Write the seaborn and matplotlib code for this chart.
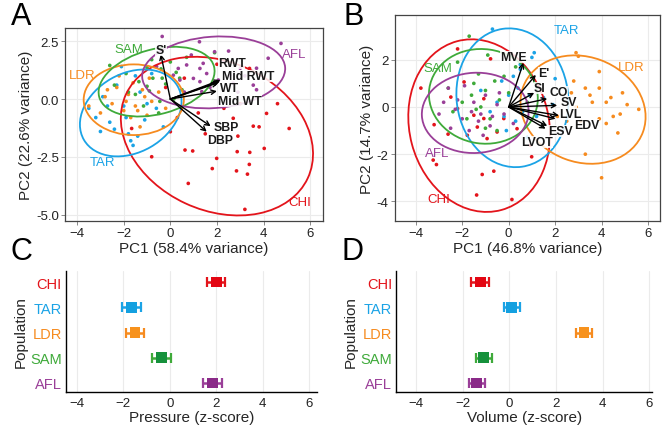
import numpy as np
import pandas as pd
import matplotlib
matplotlib.use("Agg")
import matplotlib.pyplot as plt
from matplotlib.patches import Ellipse
import seaborn as sns

# populations and colours
pops = ["CHI", "TAR", "LDR", "SAM", "AFL"]
pop_colors = {"CHI": "#E3141B", "TAR": "#1BA3E6", "LDR": "#F68B1F",
              "SAM": "#3FAA3A", "AFL": "#9A3F98"}
mark_colors = {"CHI": "#E30613", "TAR": "#14A0E0", "LDR": "#F7921D",
               "SAM": "#16913C", "AFL": "#8A2A88"}

# ---- Panel A: pressure PCA scores ----
a_chi_x = [3.4, 2.0, 0.6, -0.2, -1.66, 0.0, 2.7, 3.56, 3.81, 5.1, 4.13, 2.9, 0.63, 0.96, 1.99,
           2.87, 3.41, 4.03, 3.39, 2.84, 3.31, 0.77, 3.2, -0.8, 1.5, 2.3, 3.0, 1.8, 0.3, 1.2, 4.6]
a_chi_y = [1.32, 1.5, 0.9, 0.5, -1.27, -1.41, -0.83, -1.17, -1.2, -1.27, -0.62, -1.6, -2.2, -2.24, -2.56,
           -2.27, -2.3, -2.13, -2.82, -3.1, -3.24, -3.64, -4.76, -2.49, -1.5, -0.4, -0.2, -3.0, -0.8, -0.6, -0.2]
a_tar_x = [-3.5, -3.2, -2.9, -2.6, -2.3, -2.0, -1.7, -1.6, -1.4, -1.8, -1.1, -0.6, -2.4, -1.3, -0.8,
           -2.1, -3.0, -1.0, -0.3, -1.9, -2.7, -1.5]
a_tar_y = [-0.4, -0.8, 0.1, -1.0, 0.6, -0.3, -1.8, -2.0, -1.6, -1.5, -0.9, -0.4, -1.3, 0.3, 1.1,
           1.4, -1.4, -0.2, -1.2, -0.8, -0.3, 1.0]
a_ldr_x = [-3.5, -2.8, -2.3, -1.8, -1.2, -0.8, -1.5, -2.0, -1.0, -1.7, -2.5, -0.5, -1.3, -2.2, -0.9,
           -3.0, -1.9, -1.1, -0.2, -2.7, -1.6, -1.4]
a_ldr_y = [-0.3, 0.1, 0.5, 0.2, 0.4, -0.1, -0.3, -0.5, -0.7, -0.8, -0.2, 0.3, -1.2, 1.0, 0.9,
           -0.6, -0.1, 0.1, -0.4, 0.4, 0.7, -0.5]
a_sam_x = [-2.6, -1.9, -1.0, -0.4, 0.25, -0.75, -1.35, -0.2, 0.5, -0.9, -1.5, 0.15, -0.45, -1.15,
           -2.4, 0.7, -0.35, -1.0, 0.0, 1.9, -0.5, -0.8, 0.4, -1.8]
a_sam_y = [1.45, 1.1, 1.35, 1.3, 1.15, 0.9, 0.75, 0.65, 0.4, 0.35, 0.2, 0.0, -0.1, -0.3,
           0.6, 1.8, 0.9, 0.55, 1.6, 2.0, -0.6, 1.7, 0.9, 0.3]
a_afl_x = [-0.35, 1.25, 2.5, 4.75, 4.2, 3.7, 1.9, 0.7, 1.27, 1.56, 0.34, 0.99, 1.41, 3.0, 3.56,
           3.7, 2.7, 2.06, 0.41, -0.59, 0.13, 1.35, 2.56, 1.27, 2.3, 3.2, 1.7, 0.9, 2.9, 0.6]
a_afl_y = [2.7, 2.47, 2.07, 2.4, 1.76, 1.33, 2.04, 1.47, 1.32, 1.1, 1.32, 0.89, 1.54, 1.33, 0.6,
           0.4, 0.68, 0.82, 0.82, 1.4, 1.03, 0.32, 1.03, 0.75, 1.6, 1.0, 0.5, 1.9, 0.3, 0.3]

# ellipses: centre x, centre y, width, height, angle (CHI, TAR, LDR, SAM, AFL)
a_ell_cx = [2.0, -1.7, -1.57, -0.59, 1.86]
a_ell_cy = [-1.6, -0.6, -0.03, 0.75, 1.15]
a_ell_w = [8.6, 4.64, 4.3, 5.1, 6.15]
a_ell_h = [6.4, 3.4, 3.05, 2.8, 3.08]
a_ell_ang = [-25, 30, 0, 15, 4]
a_lab_x = [5.56, -2.9, -3.8, -1.76, 5.3]
a_lab_y = [-4.46, -2.7, 1.04, 2.16, 1.94]

# loadings
a_load_names = ["S'", "RWT", "Mid RWT", "WT", "Mid WT", "SBP", "DBP"]
a_load_x = [-0.41, 2.15, 2.12, 2.05, 2.0, 1.73, 1.56]
a_load_y = [1.93, 0.82, 0.76, 0.7, 0.34, -1.17, -1.41]
a_txt_x = [-0.4, 2.63, 3.34, 2.56, 2.99, 2.41, 2.13]
a_txt_y = [2.12, 1.55, 1.0, 0.46, -0.08, -1.19, -1.77]

# ---- Panel B: volume PCA scores ----
b_chi_x = [-3.78, -2.2, -3.21, -3.25, -3.11, -1.14, -0.64, -1.38, 0.14, 0.99, 0.93, -2.61, -1.5,
           -1.07, -1.92, -2.49, -0.78, -0.5, -1.35, -2.2, -0.93, -0.21, -1.78, 0.36, -1.07]
b_chi_y = [0.8, 2.46, -0.75, -2.25, -2.44, -2.86, -2.72, -3.73, -3.92, -2.11, -1.62, -1.15, -0.35,
           0.35, 1.06, 0.42, 2.04, -1.06, -0.85, -0.07, -1.34, -0.49, -1.2, -0.92, -0.49]
b_tar_x = [-0.7, 0.5, 1.0, 1.1, -0.3, 0.0, -0.5, 0.4, 0.6, -0.2, 0.9, -1.2, 0.3, -0.8, 1.5,
           1.2, 0.2, -0.1, 0.8, 1.9, 0.5, 2.0]
b_tar_y = [3.3, 1.8, 2.1, 2.3, 1.1, 0.5, 0.2, 0.8, -0.2, -0.4, 0.5, 0.7, -0.6, -0.2, 0.4,
           -0.4, 1.3, -1.0, -1.3, 0.1, 1.6, 1.2]
b_ldr_x = [2.9, 3.0, 3.9, 2.3, 2.7, 3.3, 3.9, 4.4, 4.9, 5.6, 4.8, 4.2, 3.6, 2.9, 3.1, 2.5, 3.9,
           4.5, 4.7, 3.3, 4.0, 2.1, 3.5, 5.1, 2.8, 4.2]
b_ldr_y = [2.3, 2.15, 1.5, 0.5, 0.6, 0.8, 0.8, 0.4, 0.6, -0.1, -0.3, 0.2, 0.2, 0.0, -0.6, -0.6, -0.5,
           -0.4, -1.1, -2.0, -3.0, -0.4, 0.5, 0.1, 1.1, -0.7]
b_sam_x = [-1.7, -2.2, -1.3, -0.6, -0.2, -2.0, -1.6, -1.0, -0.4, -1.4, -0.8, -1.8, -2.6, 0.3,
           0.8, -0.5, -1.2, -2.4, -1.5, 0.0, -0.9, -1.0]
b_sam_y = [3.0, 1.9, 1.4, 1.1, 1.3, 0.2, 0.5, 0.7, 0.3, -0.1, -0.5, -0.5, 0.8, 1.7,
           0.2, -1.0, 0.0, -0.2, 1.0, 0.6, 2.2, -0.9]
b_afl_x = [-2.6, -3.0, -2.5, -2.0, -1.5, -1.2, -0.8, -1.7, -2.2, -0.5, -1.0, -1.9, -1.3, -0.7,
           -2.8, -1.6, -0.2, -1.1, -2.3, -0.4, 0.2]
b_afl_y = [0.8, -0.3, -0.9, -0.5, 0.2, -0.3, -0.8, -1.0, 0.3, 0.1, 0.5, 0.9, -0.6, -0.4,
           0.2, -0.2, -0.3, -1.2, -0.1, 0.6, -0.7]

b_ell_cx = [-1.27, 0.16, 3.2, -1.09, -1.44]
b_ell_cy = [-0.79, 0.39, -0.11, 0.45, -0.25]
b_ell_w = [6.0, 4.8, 5.5, 4.7, 4.6]
b_ell_h = [7.4, 5.9, 4.46, 4.0, 3.4]
b_ell_ang = [15, 8, -20, -8, 3]
b_lab_x = [-3.0, 2.49, 5.27, -3.03, -3.1]
b_lab_y = [-3.92, 3.28, 1.69, 1.66, -1.93]

b_load_names = ["MVE", "E'", "SI", "CO", "SV", "LVL", "EDV", "ESV", "LVOT"]
b_load_x = [0.63, 1.17, 1.1, 1.66, 2.09, 2.16, 2.02, 1.59, 1.66]
b_load_y = [1.87, 1.36, 0.6, 0.35, 0.07, -0.36, -0.5, -0.92, -0.8]
b_txt_x = [0.21, 1.5, 1.33, 2.14, 2.57, 2.64, 3.36, 2.21, 1.24]
b_txt_y = [2.11, 1.45, 0.8, 0.63, 0.21, -0.28, -0.75, -1.01, -1.48]

# ---- Panels C & D: population means (z-score) ----
cat_order = ["AFL", "SAM", "LDR", "TAR", "CHI"]  # bottom to top
c_mean = [1.85, -0.35, -1.5, -1.65, 2.0]
c_err = [0.4, 0.4, 0.4, 0.4, 0.4]
d_mean = [-1.4, -1.1, 3.2, 0.1, -1.25]
d_err = [0.35, 0.35, 0.35, 0.35, 0.38]

sns.set_theme(style="white")
plt.rcParams["font.family"] = ["Liberation Sans", "DejaVu Sans"]

fig = plt.figure(figsize=(6.67, 4.31), dpi=100)
axA = fig.add_axes([0.0975, 0.485, 0.387, 0.448])
axB = fig.add_axes([0.592, 0.485, 0.397, 0.478])
axC = fig.add_axes([0.099, 0.088, 0.376, 0.281])
axD = fig.add_axes([0.594, 0.088, 0.384, 0.281])


def pca_panel(ax, groups, ell, labels, loads, xlim, ylim, yticks, yfmt, xlabel, ylabel):
    frames = []
    for p in pops:
        gx, gy = groups[p]
        frames.append(pd.DataFrame({"x": gx, "y": gy, "pop": p}))
    df = pd.concat(frames, ignore_index=True)
    sns.scatterplot(data=df, x="x", y="y", hue="pop", palette=pop_colors, s=7,
                    linewidth=0, legend=False, ax=ax, zorder=2)
    cx, cy, w, h, ang = ell
    for i, p in enumerate(pops):
        ax.add_patch(Ellipse((cx[i], cy[i]), w[i], h[i], angle=ang[i], fill=False,
                             edgecolor=pop_colors[p], lw=1.3, zorder=3))
        ax.text(labels[0][i], labels[1][i], p, color=pop_colors[p], fontsize=9.5,
                ha="center", va="center", zorder=5)
    names, lx, ly, tx, ty = loads
    for n, x, y, x2, y2 in zip(names, lx, ly, tx, ty):
        ax.annotate("", xy=(x, y), xytext=(0, 0),
                    arrowprops=dict(arrowstyle="->", color="black", lw=1.0,
                                    mutation_scale=8, shrinkA=0, shrinkB=0), zorder=4)
        ax.text(x2, y2, n, fontsize=8.8, fontweight="bold", color="#1a1a1a",
                ha="center", va="center", zorder=6,
                bbox=dict(facecolor="white", edgecolor="none", pad=0.0, alpha=0.85))
    ax.set_xlim(*xlim)
    ax.set_ylim(*ylim)
    ax.set_xticks([-4, -2, 0, 2, 4, 6])
    ax.set_yticks(yticks)
    ax.set_yticklabels([yfmt.format(v) for v in yticks])
    ax.grid(True, color="#EBEBEB", lw=0.8, zorder=0)
    ax.set_axisbelow(True)
    for s in ax.spines.values():
        s.set_color("#444444")
        s.set_linewidth(0.9)
    ax.tick_params(axis="both", labelsize=9.5, length=3, width=0.6, color="#777777",
                   labelcolor="#222222", pad=1.5, bottom=True, left=True)
    ax.set_xlabel(xlabel, fontsize=11, labelpad=1)
    ax.set_ylabel(ylabel, fontsize=11, labelpad=2)


pca_panel(axA,
          {"CHI": (a_chi_x, a_chi_y), "TAR": (a_tar_x, a_tar_y), "LDR": (a_ldr_x, a_ldr_y),
           "SAM": (a_sam_x, a_sam_y), "AFL": (a_afl_x, a_afl_y)},
          (a_ell_cx, a_ell_cy, a_ell_w, a_ell_h, a_ell_ang), (a_lab_x, a_lab_y),
          (a_load_names, a_load_x, a_load_y, a_txt_x, a_txt_y),
          (-4.52, 6.56), (-5.26, 3.07), [2.5, 0.0, -2.5, -5.0], "{:.1f}",
          "PC1 (58.4% variance)", "PC2 (22.6% variance)")

pca_panel(axB,
          {"CHI": (b_chi_x, b_chi_y), "TAR": (b_tar_x, b_tar_y), "LDR": (b_ldr_x, b_ldr_y),
           "SAM": (b_sam_x, b_sam_y), "AFL": (b_afl_x, b_afl_y)},
          (b_ell_cx, b_ell_cy, b_ell_w, b_ell_h, b_ell_ang), (b_lab_x, b_lab_y),
          (b_load_names, b_load_x, b_load_y, b_txt_x, b_txt_y),
          (-4.9, 6.5), (-4.83, 3.9), [2, 0, -2, -4], "{:d}",
          "PC1 (46.8% variance)", "PC2 (14.7% variance)")


def mean_panel(ax, means, errs, xlim, xlabel):
    ypos = list(range(len(cat_order)))
    df = pd.DataFrame({"mean": means, "pos": ypos, "pop": cat_order})
    for i, p in enumerate(cat_order):
        ax.errorbar(means[i], ypos[i], xerr=errs[i], fmt="none", ecolor=pop_colors[p],
                    elinewidth=1.8, capsize=3.5, capthick=1.6, zorder=3)
    sns.scatterplot(data=df, x="mean", y="pos", hue="pop", palette=mark_colors, marker="s",
                    s=60, linewidth=0, legend=False, ax=ax, zorder=4)
    ax.set_xlim(*xlim)
    ax.set_ylim(-0.36, 4.44)
    ax.set_xticks([-4, -2, 0, 2, 4, 6])
    ax.set_yticks(ypos)
    ax.set_yticklabels(cat_order)
    for lab, p in zip(ax.get_yticklabels(), cat_order):
        lab.set_color(pop_colors[p])
        lab.set_fontsize(10.5)
    ax.grid(True, axis="x", color="#EBEBEB", lw=0.8)
    ax.set_axisbelow(True)
    sns.despine(ax=ax)
    for s in ["left", "bottom"]:
        ax.spines[s].set_color("black")
        ax.spines[s].set_linewidth(1.0)
    ax.tick_params(axis="x", labelsize=9.5, length=0, pad=3.5, labelcolor="#222222")
    ax.tick_params(axis="y", length=0, pad=3)
    ax.set_xlabel(xlabel, fontsize=11, labelpad=1)
    ax.set_ylabel("Population", fontsize=11, labelpad=2)


mean_panel(axC, c_mean, c_err, (-4.47, 6.34), "Pressure (z-score)")
mean_panel(axD, d_mean, d_err, (-4.86, 6.13), "Volume (z-score)")

for letter, (x, y) in zip("ABCD", [(0.016, 0.925), (0.515, 0.925), (0.016, 0.38), (0.512, 0.38)]):
    fig.text(x, y, letter, fontsize=22, ha="left", va="bottom", color="black")

fig.savefig("out.png", dpi=100)
